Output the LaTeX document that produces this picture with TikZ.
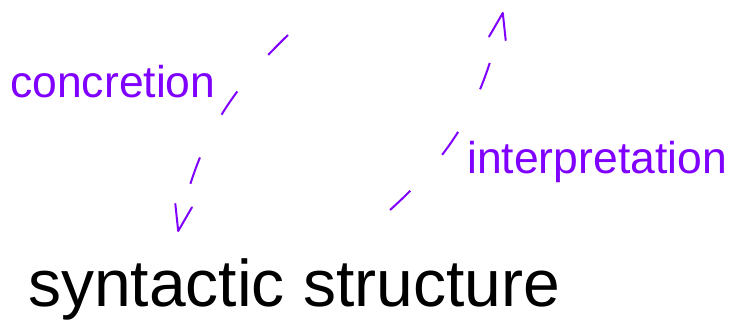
\documentclass[tikz,border=0pt]{standalone}
\usepackage{fontspec}
\setmainfont{Liberation Sans}
\usetikzlibrary{arrows.meta}
\definecolor{tagviolet}{HTML}{7F00FF}
\begin{document}
\begin{tikzpicture}[x=1pt,y=1pt,
  tagtext/.style={text=tagviolet, font=\fontsize{44.5}{50}\selectfont, inner sep=0pt, anchor=base west},
  flow/.style={draw=tagviolet, line width=2pt, dash pattern=on 28pt off 48pt,
               -{Straight Barb[length=26pt,width=17pt,round]}}]
\useasboundingbox (0,0) rectangle (731,320);
% labels
\node[tagtext] (conc) at (10,222) {concretion};
\node[tagtext] (interp) at (467,146) {interpretation};
\node[anchor=base west, inner sep=0pt, font=\fontsize{66}{75}\selectfont] (syn) at (28,13) {syntactic structure};
% arrow ends
\coordinate (a1) at (288,285);
\coordinate (a2) at (178,88);
\coordinate (b1) at (390,110);
\coordinate (b2) at (503,308);
% dashed curved arrows
\draw[flow] (a1) to[out=224,in=78] (a2);
\draw[flow] (b1) to[out=42,in=258] (b2);
\end{tikzpicture}
\end{document}
